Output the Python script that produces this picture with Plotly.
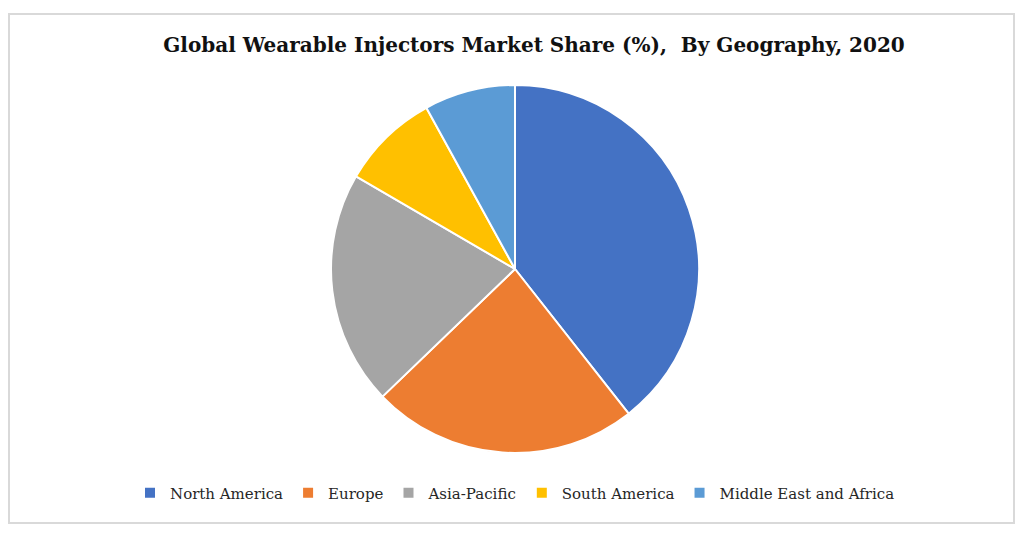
import plotly.graph_objects as go

regions = ["North America", "Europe", "Asia-Pacific", "South America", "Middle East and Africa"]
shares = [39.4, 23.4, 20.6, 8.6, 8.0]
colors = ["#4472C4", "#ED7D31", "#A5A5A5", "#FFC000", "#5B9BD5"]
title_text = "Global Wearable Injectors Market Share (%),  By Geography, 2020"

# page body has an 8px margin, so the figure is offset by 8px
OFF = 8
W, H = 1024 - 2 * OFF, 536 - 2 * OFF
cx, cy, r = 515 - OFF, 269 - OFF, 184


def px(x):
    return (x - OFF) / W


def py(y):
    return 1 - (y - OFF) / H


fig = go.Figure(go.Pie(
    labels=regions,
    values=shares,
    sort=False,
    direction="clockwise",
    rotation=0,
    textinfo="none",
    marker=dict(colors=colors, line=dict(color="white", width=2)),
    domain=dict(x=[(cx - r) / W, (cx + r) / W], y=[1 - (cy + r) / H, 1 - (cy - r) / H]),
))

fig.update_layout(
    width=W, height=H,
    margin=dict(l=0, r=0, t=0, b=0),
    paper_bgcolor="white",
    plot_bgcolor="white",
    title=dict(text="<b>" + title_text + "</b>", x=px(534), xanchor="center",
               y=py(45), yanchor="middle",
               font=dict(family="DejaVu Serif", size=20, color="#111111")),
    legend=dict(orientation="h", x=px(515), xanchor="center", y=py(493), yanchor="middle",
                font=dict(family="DejaVu Serif", size=15, color="#262626"),
                traceorder="normal", itemwidth=30),
    shapes=[dict(type="rect", xref="paper", yref="paper",
                 x0=1 / W, x1=(W - 2) / W, y0=py(523), y1=py(14),
                 line=dict(color="#D9D9D9", width=2))],
)

fig.write_html("out.html")
